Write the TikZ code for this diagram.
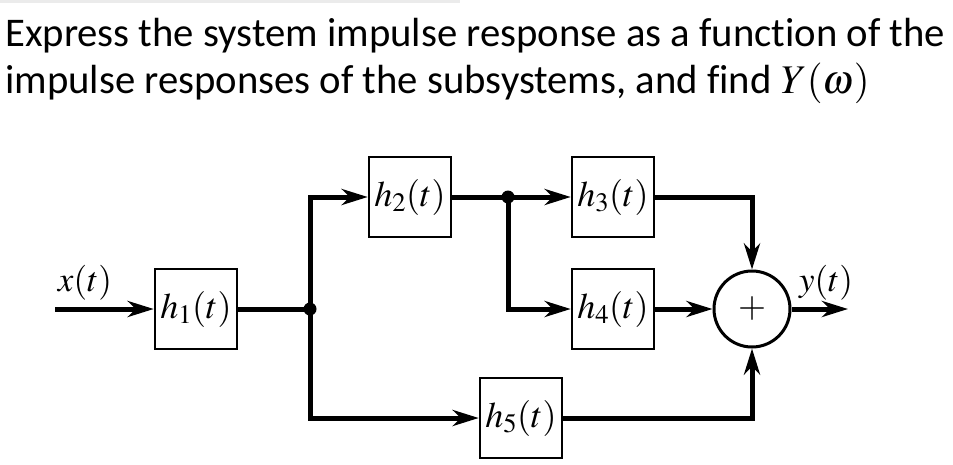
\documentclass[tikz,border=0pt]{standalone}
\usepackage{mathptmx}
\usepackage[no-math]{fontspec}
\setmainfont{Carlito}[Ligatures=NoCommon]
\usetikzlibrary{arrows.meta}
\begin{document}
\begin{tikzpicture}[x=1pt,y=-1pt,
  blk/.style={draw, line width=2.5pt, minimum width=82pt, minimum height=80pt, inner sep=0pt, font=\fontsize{36}{36}\selectfont},
  wire/.style={line width=5pt},
  arr/.style={wire, -{Stealth[length=26pt,width=16pt,inset=8pt]}},
  dot/.style={circle, fill, inner sep=0pt, minimum size=13pt},
  lbl/.style={font=\fontsize{35}{35}\selectfont, inner sep=0pt},
  ttl/.style={anchor=base west, font=\fontsize{40.7}{48}\selectfont, inner sep=0pt}]
\useasboundingbox (0,0) rectangle (953,464);
\draw[black!8, line width=3pt] (0,1.5) -- (460,1.5);
\node[ttl] (t1) at (5,46) {Express the system impulse response as a function of the};
\node[ttl] (t2) at (5,93) {impulse responses of the subsystems, and find $Y(\omega)$};
\node[blk] (h1) at (196,309) {$h_1(t)$};
\node[blk] (h2) at (410,197) {$h_2(t)$};
\node[blk] (h3) at (613,197) {$h_3(t)$};
\node[blk] (h4) at (613,309) {$h_4(t)$};
\node[blk] (h5) at (521,418) {$h_5(t)$};
\node[circle, draw, line width=3pt, minimum size=76pt, inner sep=0pt, font=\fontsize{36}{36}\selectfont] (sum) at (752,309) {$+$};
\coordinate (in) at (55,309);
\coordinate (out) at (848,309);
\node[dot] (j1) at (310,309) {};
\node[dot] (j2) at (508,197) {};
\node[lbl] (xl) at (85,283) {$x(t)$};
\node[lbl] (yl) at (826,283) {$y(t)$};
\draw[arr] (in) -- (h1);
\draw[wire] (h1) -- (j1.center);
\draw[arr] (j1.center) |- (h2.west);
\draw[arr] (j1.center) |- (h5.west);
\draw[wire] (h2) -- (j2.center);
\draw[arr] (j2.center) -- (h3);
\draw[arr] (j2.center) |- (h4.west);
\draw[arr] (h3.east) -| (sum.north);
\draw[arr] (h4) -- (sum);
\draw[arr] (h5.east) -| (sum.south);
\draw[arr] (sum) -- (out);
\end{tikzpicture}
\end{document}
